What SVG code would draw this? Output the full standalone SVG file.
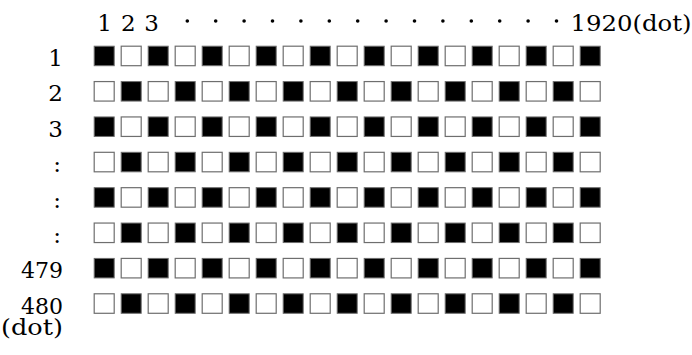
<svg xmlns="http://www.w3.org/2000/svg" width="692" height="355" viewBox="0 0 692 355">
<style>
text{font-family:"DejaVu Serif","Liberation Serif",serif;font-size:23px;fill:#000}
.b{fill:#000;stroke:#6e6e6e;stroke-width:1}
.w{fill:#fff;stroke:#6e6e6e;stroke-width:1.2}
.lbl{text-anchor:end}
</style>
<rect width="692" height="355" fill="#fff"/>
<defs>
<g id="rowA">
<rect class="b" x="94.2" y="0.5" width="20" height="19.5"/>
<rect class="w" x="121.2" y="0.5" width="20" height="19.5"/>
<rect class="b" x="148.2" y="0.5" width="20" height="19.5"/>
<rect class="w" x="175.2" y="0.5" width="20" height="19.5"/>
<rect class="b" x="202.2" y="0.5" width="20" height="19.5"/>
<rect class="w" x="229.2" y="0.5" width="20" height="19.5"/>
<rect class="b" x="256.2" y="0.5" width="20" height="19.5"/>
<rect class="w" x="283.2" y="0.5" width="20" height="19.5"/>
<rect class="b" x="310.2" y="0.5" width="20" height="19.5"/>
<rect class="w" x="337.2" y="0.5" width="20" height="19.5"/>
<rect class="b" x="364.2" y="0.5" width="20" height="19.5"/>
<rect class="w" x="391.2" y="0.5" width="20" height="19.5"/>
<rect class="b" x="418.2" y="0.5" width="20" height="19.5"/>
<rect class="w" x="445.2" y="0.5" width="20" height="19.5"/>
<rect class="b" x="472.2" y="0.5" width="20" height="19.5"/>
<rect class="w" x="499.2" y="0.5" width="20" height="19.5"/>
<rect class="b" x="526.2" y="0.5" width="20" height="19.5"/>
<rect class="w" x="553.2" y="0.5" width="20" height="19.5"/>
<rect class="b" x="580.2" y="0.5" width="20" height="19.5"/>
</g>
<g id="rowB">
<rect class="w" x="94.2" y="0.5" width="20" height="19.5"/>
<rect class="b" x="121.2" y="0.5" width="20" height="19.5"/>
<rect class="w" x="148.2" y="0.5" width="20" height="19.5"/>
<rect class="b" x="175.2" y="0.5" width="20" height="19.5"/>
<rect class="w" x="202.2" y="0.5" width="20" height="19.5"/>
<rect class="b" x="229.2" y="0.5" width="20" height="19.5"/>
<rect class="w" x="256.2" y="0.5" width="20" height="19.5"/>
<rect class="b" x="283.2" y="0.5" width="20" height="19.5"/>
<rect class="w" x="310.2" y="0.5" width="20" height="19.5"/>
<rect class="b" x="337.2" y="0.5" width="20" height="19.5"/>
<rect class="w" x="364.2" y="0.5" width="20" height="19.5"/>
<rect class="b" x="391.2" y="0.5" width="20" height="19.5"/>
<rect class="w" x="418.2" y="0.5" width="20" height="19.5"/>
<rect class="b" x="445.2" y="0.5" width="20" height="19.5"/>
<rect class="w" x="472.2" y="0.5" width="20" height="19.5"/>
<rect class="b" x="499.2" y="0.5" width="20" height="19.5"/>
<rect class="w" x="526.2" y="0.5" width="20" height="19.5"/>
<rect class="b" x="553.2" y="0.5" width="20" height="19.5"/>
<rect class="w" x="580.2" y="0.5" width="20" height="19.5"/>
</g>
</defs>
<g id="header">
<text x="104.5" y="30.7" text-anchor="middle">1</text>
<text x="128.3" y="30.7" text-anchor="middle">2</text>
<text x="151.6" y="30.7" text-anchor="middle">3</text>
<g fill="#000">
<circle cx="187.3" cy="21" r="1.8"/><circle cx="215.7" cy="21" r="1.8"/><circle cx="244.1" cy="21" r="1.8"/><circle cx="272.5" cy="21" r="1.8"/><circle cx="300.9" cy="21" r="1.8"/><circle cx="329.3" cy="21" r="1.8"/><circle cx="357.7" cy="21" r="1.8"/><circle cx="386.1" cy="21" r="1.8"/><circle cx="414.5" cy="21" r="1.8"/><circle cx="442.9" cy="21" r="1.8"/><circle cx="471.3" cy="21" r="1.8"/><circle cx="499.7" cy="21" r="1.8"/><circle cx="528.1" cy="21" r="1.8"/><circle cx="556.5" cy="21" r="1.8"/>
</g>
<text x="570.5" y="30.7" textLength="121" lengthAdjust="spacingAndGlyphs">1920(dot)</text>
</g>
<g id="row1"><text class="lbl" x="63" y="66">1</text><use href="#rowA" y="45.7"/></g>
<g id="row2"><text class="lbl" x="63" y="101.4">2</text><use href="#rowB" y="81.07"/></g>
<g id="row3"><text class="lbl" x="63" y="136.7">3</text><use href="#rowA" y="116.44"/></g>
<g id="row4"><text class="lbl" x="61" y="172.1">:</text><use href="#rowB" y="151.81"/></g>
<g id="row5"><text class="lbl" x="61" y="207.5">:</text><use href="#rowA" y="187.18"/></g>
<g id="row6"><text class="lbl" x="61" y="242.9">:</text><use href="#rowB" y="222.55"/></g>
<g id="row479"><text class="lbl" x="63" y="278.2" textLength="42" lengthAdjust="spacingAndGlyphs">479</text><use href="#rowA" y="257.92"/></g>
<g id="row480"><text class="lbl" x="63" y="313.6" textLength="42" lengthAdjust="spacingAndGlyphs">480</text><use href="#rowB" y="293.29"/></g>
<text id="unit" x="1" y="335" textLength="62" lengthAdjust="spacingAndGlyphs">(dot)</text>
</svg>
